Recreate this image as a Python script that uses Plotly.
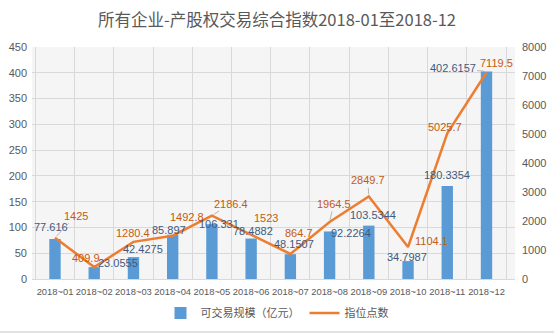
import plotly.graph_objects as go

# ---- data ----
months = ["2018~01", "2018~02", "2018~03", "2018~04", "2018~05", "2018~06",
          "2018~07", "2018~08", "2018~09", "2018~10", "2018~11", "2018~12"]
scale_values = [77.616, 23.0555, 42.4275, 85.897, 106.331, 78.4882,
                48.1507, 92.2264, 103.5344, 34.7987, 180.3354, 402.6157]
index_points = [1425, 409.9, 1280.4, 1492.8, 2186.4, 1523,
                864.7, 1964.5, 2849.7, 1104.1, 5025.7, 7119.5]
left_ticks = list(range(0, 451, 50))
right_ticks = list(range(0, 8001, 1000))

# ---- label placement (pixel offsets: dx right, dy up, leader line flag) ----
bar_lbl_dx = [-4, 24, 10, -4, 7, 2, 4, 21, 4, -1, 0, -34]
bar_lbl_dy = [12, 4, 8, 5, 0, 8, 10, -2, 11, 4, 11, 3]
bar_lbl_lead = [False, True, False, False, False, False, False, False, False, False, False, True]
line_lbl_dx = [21, -8, 0, 14, 19, 15, 9, 4, -1, 23, -2, 10]
line_lbl_dy = [22, 9, 9, 19, 12, 17, 21, 18, 16, 6, 6, 10]
line_lbl_lead = [True, False, False, False, True, False, False, True, True, False, False, False]

BAR_C = "#5b9bd5"
LINE_C = "#ed7d31"
BAR_TXT = "#3f5a7e"
LINE_TXT = "#c55a11"
GRAY = "#595959"
GRID = "#d9d9d9"
NUMFONT = "Liberation Sans"
CJK = "Noto Sans CJK SC"

fig = go.Figure()
fig.add_trace(go.Bar(x=months, y=scale_values, name="可交易规模（亿元）",
                     marker=dict(color=BAR_C, line=dict(width=0)), width=0.29,
                     yaxis="y"))
fig.add_trace(go.Scatter(x=months, y=index_points, name="指位点数", mode="lines",
                         line=dict(color=LINE_C, width=2.5), yaxis="y2"))

ann = []
def add_label(x, y, yref, text, dx, dy, lead, color):
    if lead:
        ann.append(dict(x=x, y=y, xref="x", yref=yref, text=text, showarrow=True,
                        ax=dx, ay=-dy, arrowhead=0, arrowwidth=0.8, arrowcolor="#a6a6a6",
                        standoff=2, font=dict(family=NUMFONT, size=11, color=color)))
    else:
        ann.append(dict(x=x, y=y, xref="x", yref=yref, text=text, showarrow=False,
                        xshift=dx, yshift=dy, yanchor="middle",
                        font=dict(family=NUMFONT, size=11, color=color)))

for i, m in enumerate(months):
    add_label(m, scale_values[i], "y", str(scale_values[i]), bar_lbl_dx[i], bar_lbl_dy[i],
              bar_lbl_lead[i], BAR_TXT)
    add_label(m, index_points[i], "y2", str(index_points[i]), line_lbl_dx[i], line_lbl_dy[i],
              line_lbl_lead[i], LINE_TXT)

fig.update_layout(
    width=554, height=334,
    margin=dict(l=32, r=39, t=47, b=55),
    paper_bgcolor="white",
    plot_bgcolor="#f5f5f5",
    title=dict(text="所有企业-产股权交易综合指数2018-01至2018-12", x=0.5, xanchor="center",
               y=1 - 20 / 334, yanchor="middle",
               font=dict(family=CJK, size=16.5, color=GRAY)),
    xaxis=dict(type="category", tickson="boundaries", showgrid=True, gridcolor=GRID,
               gridwidth=1, showline=True, linecolor=GRID, ticks="", tickangle=0,
               ticklabelstandoff=4, automargin=False,
               tickfont=dict(family=NUMFONT, size=9.4, color=GRAY)),
    yaxis=dict(range=[0, 450], tickvals=left_ticks, showgrid=True, gridcolor=GRID,
               zeroline=False, ticks="", ticklabelstandoff=4, automargin=False,
               tickfont=dict(family=NUMFONT, size=11, color=GRAY)),
    yaxis2=dict(range=[0, 8000], tickvals=right_ticks, overlaying="y", side="right",
                showgrid=False, zeroline=False, ticks="", ticklabelstandoff=6, automargin=False,
                tickfont=dict(family=NUMFONT, size=11, color=GRAY)),
    legend=dict(orientation="h", x=0.5, xanchor="center", xref="container",
                y=1 - 313 / 334, yanchor="middle", yref="container",
                font=dict(family=CJK, size=11, color=GRAY), itemwidth=30,
                traceorder="normal"),
    bargap=0.71,
    annotations=ann,
    shapes=[dict(type="line", xref="paper", yref="paper", x0=-32 / 483, x1=1 + 39 / 483,
                 y0=-53 / 232, y1=-53 / 232, line=dict(color="#d9d9d9", width=1.5))],
    showlegend=True,
)

fig.write_html("out.html")
